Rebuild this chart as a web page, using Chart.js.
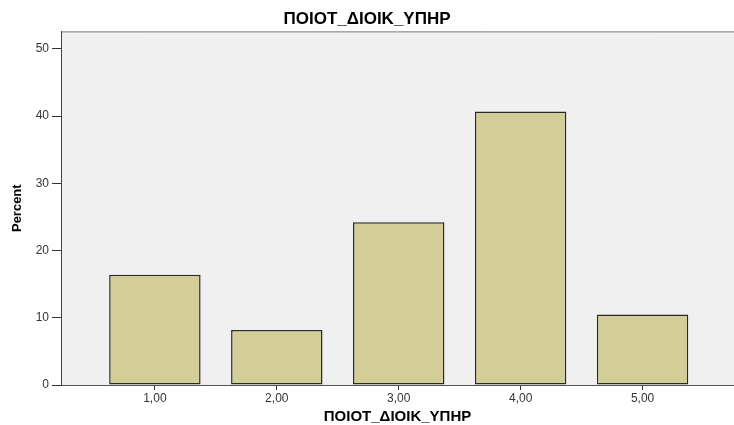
<!DOCTYPE html>
<html>
<head>
<meta charset="utf-8">
<script src="https://cdn.jsdelivr.net/npm/chart.js@4"></script>
<style>
  html, body { margin: 0; padding: 0; background: #fff; }
  #wrap { width: 734px; height: 425px; }
</style>
</head>
<body>
<div id="wrap"><canvas id="report-chart"></canvas></div>
<script>
const categories = [1, 2, 3, 4, 5];
const percentValues = [16.4, 8.2, 24.2, 40.7, 10.5];
const yTicks = [0, 10, 20, 30, 40, 50];
const variableName = 'ΠΟΙΟΤ_ΔΙΟΙΚ_ΥΠΗΡ';

const formatCategory = (v) => v.toFixed(2).replace('.', ',');

// grey plot background + thin top frame line, like the SPSS output
const plotBackground = {
  id: 'plotBackground',
  beforeDraw: (chart) => {
    const { ctx, chartArea: a } = chart;
    ctx.save();
    ctx.fillStyle = '#f0f0f0';
    ctx.fillRect(a.left, a.top, a.right - a.left, a.bottom - a.top);
    ctx.strokeStyle = '#7a7a7a';
    ctx.lineWidth = 1;
    ctx.beginPath();
    ctx.moveTo(a.left, a.top + 0.5);
    ctx.lineTo(a.right, a.top + 0.5);
    ctx.stroke();
    ctx.restore();
  },
};

const data = {
  datasets: [
    {
      data: categories.map((c, i) => ({ x: c, y: percentValues[i] })),
      backgroundColor: '#d3ce98',
      borderColor: '#2a2a2a',
      borderWidth: 1.5,
      borderSkipped: false,
      barPercentage: 0.75,
      categoryPercentage: 1,
    },
  ],
};

const config = {
  type: 'bar',
  data: data,
  plugins: [plotBackground],
  options: {
    responsive: true,
    maintainAspectRatio: false,
    animation: false,
    layout: { padding: 0 },
    scales: {
      x: {
        type: 'linear',
        min: 0.23,
        max: 5.75,
        offset: false,
        afterBuildTicks: (s) => {
          s.ticks = categories.map((v) => ({ value: v }));
        },
        afterFit: (s) => {
          s.height = 40;
        },
        ticks: {
          callback: (v) => formatCategory(v),
          font: { family: 'Liberation Sans', size: 12 },
          color: '#333',
          padding: 1,
          maxRotation: 0,
        },
        grid: {
          offset: false,
          drawOnChartArea: false,
          tickLength: 5,
          tickColor: '#333',
        },
        border: { color: '#555', width: 1 },
        title: {
          display: true,
          text: variableName,
          font: { family: 'Liberation Sans', size: 15, weight: 'bold', lineHeight: 1 },
          color: '#000',
          padding: { top: 0, bottom: 1 },
        },
      },
      y: {
        min: 0,
        max: 52.6,
        afterBuildTicks: (s) => {
          s.ticks = yTicks.map((v) => ({ value: v }));
        },
        afterFit: (s) => {
          s.width = 61;
        },
        ticks: {
          font: { family: 'Liberation Sans', size: 12 },
          color: '#333',
          padding: 3,
        },
        grid: {
          drawOnChartArea: false,
          tickLength: 9,
          tickColor: '#333',
        },
        border: { color: '#444', width: 1 },
        title: {
          display: true,
          text: 'Percent',
          font: { family: 'Liberation Sans', size: 13, weight: 'bold' },
          color: '#000',
          padding: { top: 10, bottom: 0 },
        },
      },
    },
    plugins: {
      legend: { display: false },
      tooltip: { enabled: false },
      title: {
        display: true,
        text: variableName,
        font: { family: 'Liberation Sans', size: 17, weight: 'bold' },
        color: '#000',
        padding: { top: 9, bottom: 2 },
      },
    },
  },
};

new Chart(document.getElementById('report-chart'), config);
</script>
</body>
</html>
